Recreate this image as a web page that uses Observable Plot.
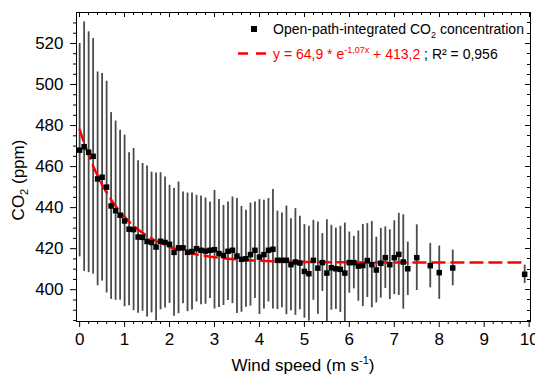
<!DOCTYPE html>
<html><head><meta charset="utf-8">
<script src="https://cdn.jsdelivr.net/npm/d3@7"></script>
<script src="https://cdn.jsdelivr.net/npm/@observablehq/plot@0.6"></script>
<style>
html,body{margin:0;padding:0;background:#fff;}
#chart svg{display:block;}
</style></head><body><div id="chart"></div>
<script>
// ---- data ----
const windSpeed = [
  0.0,0.1,0.2,0.3,0.4,0.5,0.6,0.7,0.8,0.9,
  1.0,1.1,1.2,1.3,1.4,1.5,1.6,1.7,1.8,1.9,
  2.0,2.1,2.2,2.3,2.4,2.5,2.6,2.7,2.8,2.9,
  3.0,3.1,3.2,3.3,3.4,3.5,3.6,3.7,3.8,3.9,
  4.0,4.1,4.2,4.3,4.4,4.5,4.6,4.7,4.8,4.9,
  5.0,5.1,5.2,5.3,5.4,5.5,5.6,5.7,5.8,5.9,
  6.0,6.1,6.2,6.3,6.4,6.5,6.6,6.7,6.8,6.9,
  7.0,7.1,7.2,7.3,7.5,7.8,8.0,8.3,9.9
];
const co2Mean = [
  468.0,469.7,467.0,465.0,454.0,454.8,450.0,440.8,438.5,436.3,
  433.5,429.5,429.3,425.7,425.5,423.5,423.0,420.8,423.6,423.0,
  422.1,418.2,420.4,420.4,418.2,418.6,420.0,419.2,418.8,419.2,
  419.5,417.6,416.7,418.7,419.2,416.4,414.8,415.1,417.1,419.2,
  415.9,417.1,419.2,419.7,414.3,414.3,414.3,412.2,413.5,413.0,
  408.9,407.8,414.3,410.5,413.2,408.1,410.7,410.2,409.9,408.1,
  413.2,413.2,411.5,411.8,414.2,412.2,409.6,412.9,415.6,412.2,
  415.6,417.2,413.5,410.2,415.6,411.7,408.3,410.6,407.5
];
const co2Sd = [
  52.0,60.8,58.7,57.4,52.1,50.6,51.6,45.5,43.7,41.4,
  41.8,37.3,39.5,37.2,36.0,36.8,34.3,36.1,33.4,31.9,
  28.8,31.1,32.1,27.2,28.9,28.5,26.0,26.5,25.9,23.5,
  28.9,26.3,24.4,24.0,26.0,28.0,25.8,23.6,25.1,23.5,
  28.0,26.5,25.2,29.1,24.0,23.1,26.5,22.4,26.0,22.8,
  22.8,23.1,19.5,22.5,14.1,26.0,20.7,19.8,21.0,24.4,
  14.9,12.8,17.1,20.0,18.0,21.0,16.0,17.0,15.0,17.0,
  18.0,20.0,23.0,13.0,16.0,10.8,13.0,8.7,4.5
];
const xTicks = [0,1,2,3,4,5,6,7,8,9,10];
const yTicks = [400,420,440,460,480,500,520];
// fitted curve y = a * e^(k x) + c, as printed in the legend
const fitA = 64.9, fitK = -1.07, fitC = 413.2, fitR2 = 0.956;
const fitXMax = 9.85;
const seriesLabel = "Open-path-integrated CO";

// ---- build ----
const W = 535, H = 376;
const mL = 76, mR = 5, mT = 12, mB = 55;
const font = "'Liberation Sans', Arial, Helvetica, sans-serif";
const data = windSpeed.map((w, i) => ({w, c: co2Mean[i], s: co2Sd[i]}));
const fitPts = d3.range(0, fitXMax + 1e-9, 0.05).map(x => ({x, y: fitA * Math.exp(fitK * x) + fitC}));
const xMinor = d3.range(0, 10.001, 0.2).map(v => +v.toFixed(1)).filter(v => !xTicks.includes(v));
const yMinor = d3.range(385, 535, 5).filter(v => !yTicks.includes(v));

const plot = Plot.plot({
  width: W, height: H,
  marginLeft: mL, marginRight: mR, marginTop: mT, marginBottom: mB,
  style: {fontFamily: font, fontSize: "17px", color: "#000", background: "#fff", overflow: "visible"},
  x: {domain: [-0.07, 10.03]},
  y: {domain: [384.5, 535.1]},
  marks: [
    Plot.ruleX(data, {x: "w", y1: d => d.c - d.s, y2: d => d.c + d.s, stroke: "#4a4a4a", strokeWidth: 1.8, clip: true}),
    Plot.line(fitPts, {x: "x", y: "y", stroke: "#ff0000", strokeWidth: 2.5, strokeDasharray: "12,7", clip: true}),
    Plot.dot(data, {x: "w", y: "c", symbol: "square", r: 3.1, fill: "#000", stroke: null}),
    Plot.axisX(xMinor, {tickSize: 3, tickFormat: () => "", label: null}),
    Plot.axisX(xTicks, {tickSize: 6, tickPadding: 5, tickFormat: d => String(d), label: null}),
    Plot.axisY(yMinor, {tickSize: 3, tickFormat: () => "", label: null}),
    Plot.axisY(yTicks, {tickSize: 6, tickPadding: 7, tickFormat: d => String(d), label: null}),
    Plot.frame({stroke: "#000", strokeWidth: 1})
  ]
});

const svg = d3.select(plot);
const sx = plot.scale("x"), sy = plot.scale("y");
const pTop = mT, pBottom = H - mB, pLeft = mL, pRight = W - mR;

// mirrored inward ticks on top and right
const mg = svg.append("g").attr("stroke", "#000").attr("stroke-width", 1);
for (const t of xTicks.concat(xMinor)) {
  const len = xTicks.includes(t) ? 5 : 3;
  const px = Math.round(sx.apply(t)) + 0.5;
  mg.append("line").attr("x1", px).attr("x2", px).attr("y1", pTop).attr("y2", pTop + len);
}
for (const t of yTicks.concat(yMinor)) {
  const len = yTicks.includes(t) ? 5 : 3;
  const py = Math.round(sy.apply(t)) + 0.5;
  mg.append("line").attr("x1", pRight).attr("x2", pRight - len).attr("y1", py).attr("y2", py);
}

// axis titles
const xt = svg.append("text").attr("x", (pLeft + pRight) / 2).attr("y", 371)
  .attr("text-anchor", "middle").attr("font-family", font).attr("font-size", 17).attr("fill", "#000");
xt.append("tspan").text("Wind speed (m s");
xt.append("tspan").text("-1").attr("font-size", 11).attr("dy", -7);
xt.append("tspan").text(")").attr("dy", 7);

const yt = svg.append("text").attr("transform", "translate(24,180) rotate(-90)")
  .attr("text-anchor", "middle").attr("font-family", font).attr("font-size", 17).attr("fill", "#000");
yt.append("tspan").text("CO");
yt.append("tspan").text("2").attr("font-size", 11).attr("dy", 4);
yt.append("tspan").text(" (ppm)").attr("dy", -4);

// legend
const lg = svg.append("g").attr("font-family", font).attr("font-size", 14).attr("text-anchor", "start");
lg.append("rect").attr("x", 251).attr("y", 26).attr("width", 6).attr("height", 6).attr("fill", "#000");
const l1 = lg.append("text").attr("x", 273).attr("y", 33.5).attr("fill", "#000");
l1.append("tspan").text(seriesLabel);
l1.append("tspan").text("2").attr("font-size", 9).attr("dy", 4);
l1.append("tspan").text(" concentration").attr("dy", -4);

lg.append("line").attr("x1", 238).attr("x2", 267).attr("y1", 53.5).attr("y2", 53.5)
  .attr("stroke", "#ff0000").attr("stroke-width", 2.5).attr("stroke-dasharray", "10,8");
const fmt = v => String(v).replace(".", ",");
const l2 = lg.append("text").attr("x", 273).attr("y", 58.5);
l2.append("tspan").text(`y = ${fmt(fitA)} * e`).attr("fill", "#ff0000");
l2.append("tspan").text(`${fmt(fitK)}x`).attr("fill", "#ff0000").attr("font-size", 9).attr("dy", -6);
l2.append("tspan").text(` + ${fmt(fitC)}`).attr("fill", "#ff0000").attr("dy", 6);
l2.append("tspan").text(` ; R² = ${fmt(fitR2)}`).attr("fill", "#000");

document.getElementById("chart").appendChild(plot);
</script>
</body></html>
